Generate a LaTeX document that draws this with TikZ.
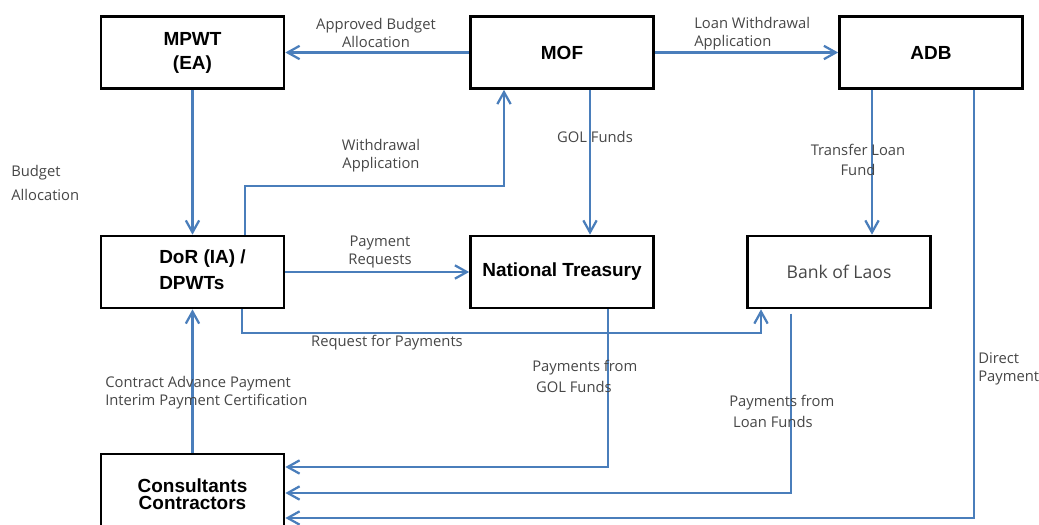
\documentclass[tikz,border=0pt]{standalone}
\usepackage{fontspec}
\setmainfont{Liberation Sans}
\newfontfamily\labelfont{Open Sans}
\usetikzlibrary{arrows.meta,calc}
\definecolor{flowblue}{RGB}{74,126,187}
\definecolor{labelgray}{RGB}{70,70,70}

\begin{document}
\begin{tikzpicture}[x=0.025cm, y=-0.025cm,
  box/.style={draw, line width=1.9pt, minimum width=4.575cm, minimum height=1.8cm, inner sep=0pt, font=\bfseries\fontsize{13.5}{17}\selectfont, align=center},
  boxtxt/.style={inner sep=0pt, font=\bfseries\fontsize{13.5}{18.5}\selectfont, align=left},
  flow/.style={draw=flowblue, line width=1.6pt, -{Straight Barb[length=8.5pt,width=9.5pt]}},
  lbl/.style={inner sep=0pt, text=labelgray, font=\labelfont\fontsize{10.5}{13}\selectfont}]
\useasboundingbox (0,0) rectangle (1039,525);

% boxes
\node[box] (mpwt) at (192.5,52.5) {MPWT\\(EA)};
\node[box] (mof) at (562,52.5) {MOF};
\node[box] (adb) at (931,52.5) {ADB};
\node[box] (dor) at (192.5,272) {};
\node[boxtxt, anchor=west] (dortxt) at (159,270) {DoR (IA) /\\DPWTs};
\node[box] (nt) at (562,272) {National Treasury};
\node[box, font=\labelfont\fontsize{12.5}{15}\selectfont, text=labelgray] (bol) at (839,272) {Bank of Laos};
\node[box, font=\bfseries\fontsize{13.5}{12}\selectfont] (cons) at (192.5,490) {\\[4pt]Consultants\\Contractors};

% bend points
\coordinate (wd1) at (245,186);
\coordinate (wd2) at (504,186);
\coordinate (gf) at (590,160);
\coordinate (tl) at (872,160);
\coordinate (dp) at (974,518);
\coordinate (rp1) at (242,333);
\coordinate (rp2) at (761,333);
\coordinate (pg) at (608,467);
\coordinate (pl) at (791,493);

% connectors
\draw[flow] (mof.west) -- (mpwt.east);
\draw[flow] (mof.east) -- (adb.west);
\draw[flow] (mpwt.south) -- (dor.north);
\draw[flow] (dor.north -| wd1) -- (wd1) -- (wd2) -- (mof.south -| wd2);
\draw[flow] (mof.south -| gf) -- (nt.north -| gf);
\draw[flow] (adb.south -| tl) -- (bol.north -| tl);
\draw[flow] (adb.south -| dp) -- (dp) -- (cons.east |- dp);
\draw[flow] (dor.east) -- (nt.west);
\draw[flow] (dor.south -| rp1) -- (rp1) -- (rp2) -- (bol.south -| rp2);
\draw[flow] (nt.south -| pg) -- (pg) -- (cons.east |- pg);
\draw[flow] ([yshift=-3pt]bol.south -| pl) -- (pl) -- (cons.east |- pl);
\draw[flow] (cons.north) -- (dor.south);

% labels
\node[lbl, align=center] (abl) at (376,33) {Approved Budget\\Allocation};
\node[lbl, align=left, anchor=west] (lwa) at (694,34) {Loan Withdrawal\\Application};
\node[lbl, align=left, anchor=west, font=\labelfont\fontsize{10.5}{17}\selectfont] (ba) at (11,183) {Budget\\Allocation};
\node[lbl, align=center] (wda) at (381,156) {Withdrawal\\Application};
\node[lbl] (golf) at (595,137) {GOL Funds};
\node[lbl, align=center, font=\labelfont\fontsize{10.5}{14}\selectfont] (tlf) at (858,160) {Transfer Loan\\Fund};
\node[lbl, align=center] (preq) at (380,252) {Payment\\Requests};
\node[lbl] (rfp) at (387,343) {Request for Payments};
\node[lbl, align=left, anchor=west] (cap) at (105,392.5) {Contract Advance Payment\\Interim Payment Certification};
\node[lbl, align=left, anchor=west, font=\labelfont\fontsize{10.5}{15}\selectfont] (pgf) at (532,376.5) {Payments from\\\ GOL Funds};
\node[lbl, align=left, anchor=west, font=\labelfont\fontsize{10.5}{15}\selectfont] (plf) at (729,411.5) {Payments from\\\ Loan Funds};
\node[lbl, align=left, anchor=west] (dpay) at (978,369) {Direct\\Payment};
\end{tikzpicture}
\end{document}
